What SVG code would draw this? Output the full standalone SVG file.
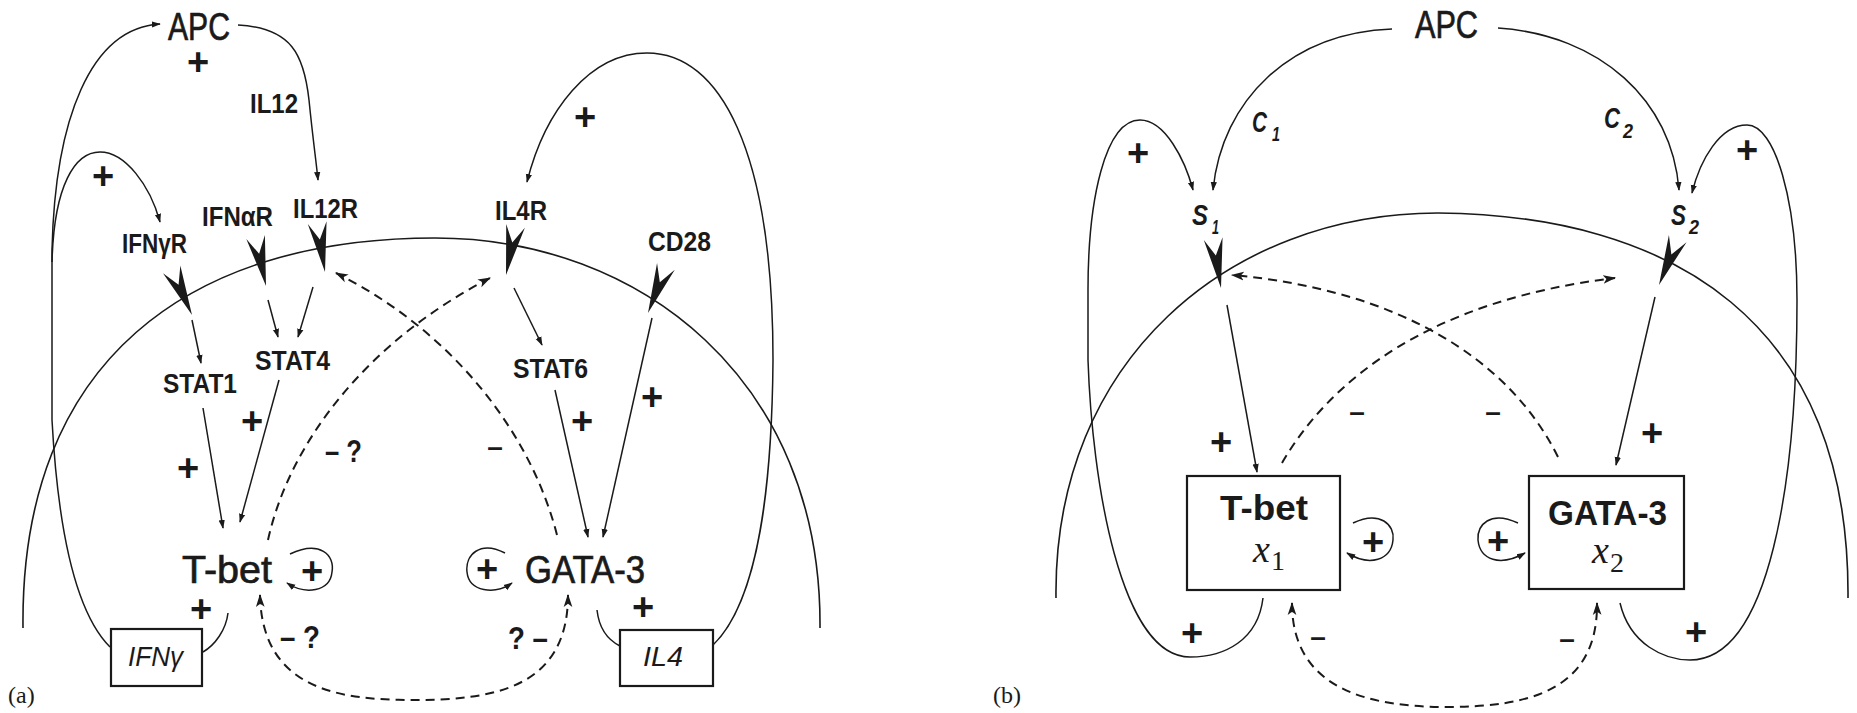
<svg xmlns="http://www.w3.org/2000/svg" width="1857" height="713" viewBox="0 0 1857 713">
<defs>
<style>
.ln{fill:none;stroke:#1a1a1a;stroke-width:1.5}
.ds{fill:none;stroke:#1a1a1a;stroke-width:2;stroke-dasharray:9 6}
.ar{marker-end:url(#ah)}
.dar{marker-end:url(#dh)}
.dbl{marker-start:url(#dh);marker-end:url(#dh)}
.mem{fill:none;stroke:#1a1a1a;stroke-width:1.6}
.box{fill:#fff;stroke:#1a1a1a;stroke-width:2.2}
.rc{fill:#1a1a1a}
text{font-family:"Liberation Sans",Arial,sans-serif;fill:#1a1a1a}
.sm{font-size:27px;font-weight:bold}
.big{font-size:38px;stroke:#1a1a1a;stroke-width:0.7}
.bb{font-size:35px;font-weight:bold}
.pl{font-size:38px;font-weight:bold;text-anchor:middle}
.mi{font-size:28px;font-weight:bold;text-anchor:middle}
.q{font-size:32px;font-weight:bold}
.gi{font-size:28px;font-style:italic}
.sub{font-size:29px;font-style:italic;font-weight:bold}
.sb{font-size:20px;font-style:italic;font-weight:bold}
.ser{font-family:"Liberation Serif","Times New Roman",serif}
</style>
<marker id="ah" viewBox="0 0 10 10" refX="9" refY="5" markerWidth="9" markerHeight="9" markerUnits="userSpaceOnUse" orient="auto-start-reverse"><path d="M0,1.5 L10,5 L0,8.5 z" fill="#1a1a1a"/></marker>
<marker id="dh" viewBox="0 0 12 10" refX="11" refY="5" markerWidth="13" markerHeight="11" markerUnits="userSpaceOnUse" orient="auto-start-reverse"><path d="M0,1 L12,5 L0,9 L3,5 z" fill="#1a1a1a"/></marker>
<path id="rec" d="M0,0 L-9.5,-50 L0,-33 L9.5,-50 z"/>
</defs>
<rect width="1857" height="713" fill="#fff"/>

<!-- membranes -->
<path class="mem" d="M23,628 C20,360 190,238 435,238 C640,238 822,380 820,628"/>
<path class="mem" d="M1056,598 C1053,360 1230,213 1438,213 C1670,215 1850,320 1848,598"/>

<g id="connectors">
<!-- panel a solid -->
<path class="ln ar" d="M110,647 C75,612 58,530 52,420 L52,250 C55,120 90,28 160,24"/>
<path class="ln ar" d="M52,262 C54,185 75,152 100,152 C125,152 150,185 160,222"/>
<path class="ln ar" d="M238,25 C292,28 304,55 309,100 C313,140 316,160 318,180"/>
<path class="ln ar" d="M192,320 L201,363"/>
<path class="ln ar" d="M268,300 L278,337"/>
<path class="ln ar" d="M313,287 L298,337"/>
<path class="ln ar" d="M514,288 L542,345"/>
<path class="ln ar" d="M203,408 L223,528"/>
<path class="ln ar" d="M279,380 L240,522"/>
<path class="ln ar" d="M555,390 L588,537"/>
<path class="ln ar" d="M652,318 L603,537"/>
<path class="ln ar" d="M290,554 C320,540 335,555 332,572 C330,592 305,595 287,583"/>
<path class="ln ar" d="M505,553 C480,540 465,555 467,572 C469,592 495,595 512,583"/>
<path class="ln" d="M228,613 C226,630 215,645 203,652"/>
<path class="ln" d="M597,610 C599,628 608,640 620,646"/>
<path class="ln ar" d="M713,645 C760,600 772,480 773,360 C773,150 720,53 647,53 C590,53 545,110 527,182"/>
<!-- panel a dashed -->
<path class="ds dar" d="M268,540 C290,440 370,340 490,278"/>
<path class="ds dar" d="M557,535 C530,430 450,330 336,273"/>
<path class="ds dbl" d="M260,595 C262,690 340,700 413,700 C490,700 568,690 568,595"/>
<!-- panel b solid -->
<path class="ln ar" d="M1392,29 C1290,33 1222,100 1213,190"/>
<path class="ln ar" d="M1498,28 C1600,35 1672,100 1679,190"/>
<path class="ln ar" d="M1263,598 C1258,640 1225,657 1190,657 C1120,657 1092,480 1088,360 L1088,290 C1088,200 1105,120 1140,120 C1165,120 1185,160 1193,190"/>
<path class="ln ar" d="M1620,603 C1630,645 1665,660 1690,660 C1770,660 1797,480 1797,300 C1797,200 1775,125 1747,125 C1720,125 1700,160 1692,193"/>
<path class="ln ar" d="M1227,305 L1257,472"/>
<path class="ln ar" d="M1655,297 L1616,465"/>
<path class="ln ar" d="M1353,523 C1380,510 1395,525 1393,540 C1391,560 1370,567 1347,553"/>
<path class="ln ar" d="M1518,523 C1490,510 1477,525 1478,540 C1480,560 1500,567 1525,553"/>
<!-- panel b dashed -->
<path class="ds dar" d="M1282,463 C1330,380 1430,300 1615,278"/>
<path class="ds dar" d="M1558,457 C1510,360 1400,290 1232,275"/>
<path class="ds dbl" d="M1292,603 C1292,690 1370,707 1447,707 C1530,707 1598,690 1597,603"/>

<!-- signs -->
<text class="pl" x="198" y="75">+</text>
<text class="pl" x="103" y="189">+</text>
<text class="pl" x="585" y="130">+</text>
<text class="pl" x="252" y="434">+</text>
<text class="pl" x="188" y="481">+</text>
<text class="pl" x="312" y="584">+</text>
<text class="pl" x="201" y="622">+</text>
<text class="pl" x="652" y="410">+</text>
<text class="pl" x="582" y="434">+</text>
<text class="pl" x="487" y="582">+</text>
<text class="pl" x="643" y="620">+</text>
<text class="mi" x="495" y="456">–</text>
<text class="q" x="325" y="462" textLength="37" lengthAdjust="spacingAndGlyphs">– ?</text>
<text class="q" x="280" y="648" textLength="40" lengthAdjust="spacingAndGlyphs">– ?</text>
<text class="q" x="508" y="649" textLength="40" lengthAdjust="spacingAndGlyphs">? –</text>
<text x="250" y="113" class="sm" textLength="48" lengthAdjust="spacingAndGlyphs">IL12</text>

<text class="pl" x="1138" y="166">+</text>
<text class="pl" x="1747" y="163">+</text>
<text class="pl" x="1221" y="455">+</text>
<text class="pl" x="1652" y="446">+</text>
<text class="pl" x="1373" y="555">+</text>
<text class="pl" x="1498" y="554">+</text>
<text class="pl" x="1192" y="646">+</text>
<text class="pl" x="1696" y="645">+</text>
<text class="mi" x="1357" y="421">–</text>
<text class="mi" x="1493" y="421">–</text>
<text class="mi" x="1318" y="646">–</text>
<text class="mi" x="1567" y="648">–</text>
<text class="sub" x="1252" y="132" textLength="15" lengthAdjust="spacingAndGlyphs">C</text><text class="sb" x="1272" y="141" textLength="8" lengthAdjust="spacingAndGlyphs">1</text>
<text class="sub" x="1604" y="128" textLength="16" lengthAdjust="spacingAndGlyphs">C</text><text class="sb" x="1623" y="138" textLength="10" lengthAdjust="spacingAndGlyphs">2</text>
</g>

<!-- panel a nodes -->
<g id="apc-a"><text x="168" y="40" class="big" font-size="36" textLength="62" lengthAdjust="spacingAndGlyphs">APC</text></g>
<g id="ifngr"><text x="122" y="253" class="sm" textLength="65" lengthAdjust="spacingAndGlyphs">IFNγR</text><use href="#rec" class="rc" transform="translate(192,315) rotate(-24)"/></g>
<g id="ifnar"><text x="202" y="226" class="sm" textLength="71" lengthAdjust="spacingAndGlyphs">IFNαR</text><use href="#rec" class="rc" transform="translate(266,286) rotate(-12)"/></g>
<g id="il12r"><text x="293" y="218" class="sm" textLength="65" lengthAdjust="spacingAndGlyphs">IL12R</text><use href="#rec" class="rc" transform="translate(325,272) rotate(-9)"/></g>
<g id="il4r"><text x="495" y="220" class="sm" textLength="52" lengthAdjust="spacingAndGlyphs">IL4R</text><use href="#rec" class="rc" transform="translate(506,275) rotate(11)"/></g>
<g id="cd28"><text x="648" y="251" class="sm" textLength="63" lengthAdjust="spacingAndGlyphs">CD28</text><use href="#rec" class="rc" transform="translate(648,313) rotate(21)"/></g>
<g id="stat1"><text x="163" y="393" class="sm" textLength="74" lengthAdjust="spacingAndGlyphs">STAT1</text></g>
<g id="stat4"><text x="255" y="370" class="sm" textLength="75" lengthAdjust="spacingAndGlyphs">STAT4</text></g>
<g id="stat6"><text x="513" y="378" class="sm" textLength="75" lengthAdjust="spacingAndGlyphs">STAT6</text></g>
<g id="tbet-a"><text x="182" y="583" class="big" textLength="90" lengthAdjust="spacingAndGlyphs">T-bet</text></g>
<g id="gata3-a"><text x="525" y="583" class="big" textLength="120" lengthAdjust="spacingAndGlyphs">GATA-3</text></g>
<g id="ifng-box"><rect class="box" x="111" y="629" width="91" height="57"/><text x="128" y="666" class="gi" textLength="55" lengthAdjust="spacingAndGlyphs">IFNγ</text></g>
<g id="il4-box"><rect class="box" x="620" y="630" width="93" height="56"/><text x="643" y="666" class="gi" textLength="40" lengthAdjust="spacingAndGlyphs">IL4</text></g>
<g id="label-a"><text x="8" y="703" class="ser" font-size="24">(a)</text></g>

<!-- panel b nodes -->
<g id="apc-b"><text x="1415" y="38" class="big" font-size="36" textLength="63" lengthAdjust="spacingAndGlyphs">APC</text></g>
<g id="s1"><text class="sub" x="1192" y="225" textLength="16" lengthAdjust="spacingAndGlyphs">S</text><text class="sb" x="1212" y="234" textLength="7" lengthAdjust="spacingAndGlyphs">1</text><use href="#rec" class="rc" transform="translate(1221,288) rotate(-9)"/></g>
<g id="s2"><text class="sub" x="1671" y="225" textLength="15" lengthAdjust="spacingAndGlyphs">S</text><text class="sb" x="1689" y="234" textLength="10" lengthAdjust="spacingAndGlyphs">2</text><use href="#rec" class="rc" transform="translate(1659,285) rotate(22)"/></g>
<g id="tbet-b"><rect class="box" x="1187" y="476" width="153" height="114" stroke-width="2.6"/><text x="1220" y="520" class="bb" textLength="88" lengthAdjust="spacingAndGlyphs">T-bet</text><text x="1253" y="562" class="ser" font-size="38" font-style="italic">x</text><text x="1271" y="570" class="ser" font-size="28">1</text></g>
<g id="gata3-b"><rect class="box" x="1529" y="476" width="155" height="113" stroke-width="2.6"/><text x="1548" y="525" class="bb" textLength="119" lengthAdjust="spacingAndGlyphs">GATA-3</text><text x="1592" y="563" class="ser" font-size="38" font-style="italic">x</text><text x="1610" y="572" class="ser" font-size="28">2</text></g>
<g id="label-b"><text x="993" y="703" class="ser" font-size="24">(b)</text></g>
</svg>
